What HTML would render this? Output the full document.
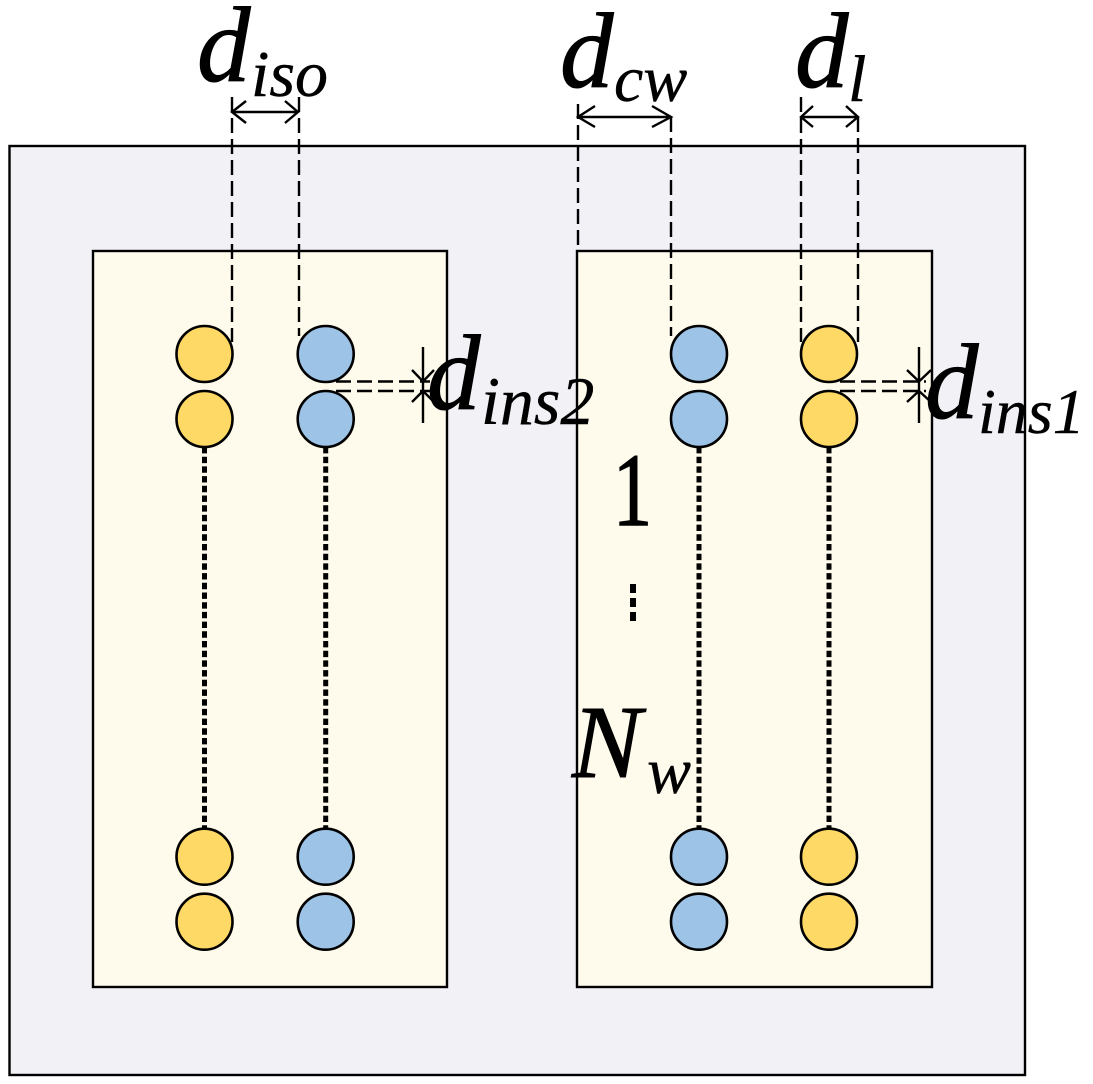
<!DOCTYPE html>
<html>
<head>
<meta charset="utf-8">
<style>
html,body{margin:0;padding:0;background:#fff;}
svg{display:block;}
text{font-family:"Liberation Serif",serif;font-style:italic;fill:#000;stroke:#000;}
.d{font-size:107px;stroke-width:1;}
.s{font-size:66px;stroke-width:0.4;}
.c1{fill:#ffd966;stroke:#000;stroke-width:2.6;}
.c2{fill:#9dc3e6;stroke:#000;stroke-width:2.6;}
.dash{stroke:#000;stroke-width:2.4;stroke-dasharray:15 6;fill:none;}
.dot{stroke:#000;stroke-width:5;stroke-dasharray:6.4 3.3;fill:none;}
.ln{stroke:#000;stroke-width:2.4;fill:none;}
</style>
</head>
<body>
<svg width="1093" height="1084" viewBox="0 0 1093 1084" xmlns="http://www.w3.org/2000/svg">
<rect x="0" y="0" width="1093" height="1084" fill="#fff"/>
<rect x="9.500" y="146" width="1015.500" height="929" fill="#f2f1f6" stroke="#000" stroke-width="2.400"/>
<rect x="93" y="251" width="354" height="736" fill="#fffbec" stroke="#000" stroke-width="2.400"/>
<rect x="577" y="251" width="355" height="736" fill="#fffbec" stroke="#000" stroke-width="2.400"/>

<!-- vertical dashed guides -->
<path class="dash" d="M232 97V342M299 97V336M578 104V251M671 117V336M801 97V342M858 117V342"/>

<!-- horizontal dashed guides -->
<path class="dash" d="M336 381.500H430M336 391H430M840 381.500H926M840 391H926"/>

<!-- dotted lines -->
<path class="dot" d="M204.500 447V828M325.700 447V828M699 447V828M829 447V828"/>
<path class="dash" style="stroke-width:6;stroke-dasharray:9 5" d="M633 584V624"/>

<!-- circles -->
<circle class="c1" cx="204.500" cy="354" r="28"/>
<circle class="c1" cx="204.500" cy="419" r="28"/>
<circle class="c1" cx="204.500" cy="856.700" r="28"/>
<circle class="c1" cx="204.500" cy="921.700" r="28"/>
<circle class="c2" cx="325.700" cy="354" r="28"/>
<circle class="c2" cx="325.700" cy="419" r="28"/>
<circle class="c2" cx="325.700" cy="856.700" r="28"/>
<circle class="c2" cx="325.700" cy="921.700" r="28"/>
<circle class="c2" cx="699" cy="354" r="28"/>
<circle class="c2" cx="699" cy="419" r="28"/>
<circle class="c2" cx="699" cy="856.700" r="28"/>
<circle class="c2" cx="699" cy="921.700" r="28"/>
<circle class="c1" cx="829" cy="354" r="28"/>
<circle class="c1" cx="829" cy="419" r="28"/>
<circle class="c1" cx="829" cy="856.700" r="28"/>
<circle class="c1" cx="829" cy="921.700" r="28"/>

<!-- dimension arrows -->
<path class="ln" d="M232 112H298M246 101L232 112L246 123M285 101L298 112L285 123"/>
<path class="ln" d="M578 117H671M595 106L578 117L595 127M652 106L671 117L652 127"/>
<path class="ln" d="M801 117H858M813 106L801 117L813 127M846 106L858 117L846 127"/>
<path class="ln" d="M423 347V423M412 370L423 381.500L434 370M412 402L423 391L434 402"/>
<path class="ln" d="M919 347V423M907 370L919 381.500L931 370M907 402L919 391L931 402"/>

<!-- labels -->
<text class="d" x="197" y="81">d</text>
<text class="s" x="251" y="96">iso</text>
<text class="d" x="560" y="87">d</text>
<text class="s" x="614" y="101">cw</text>
<text class="d" x="795" y="87">d</text>
<text class="s" x="848" y="101">l</text>
<text class="d" x="427" y="409">d</text>
<text class="s" x="481" y="424" style="font-size:68px">ins2</text>
<text class="d" x="925" y="418">d</text>
<text class="s" x="978" y="433" style="font-size:64px">ins1</text>
<text transform="translate(613,525) scale(0.75,1)" x="0" y="0" style="font-style:normal;font-size:104px;stroke-width:1.600">1</text>
<text x="572" y="777" style="font-size:104px;stroke-width:1">N</text>
<text class="s" x="647" y="793">w</text>
</svg>
</body>
</html>
